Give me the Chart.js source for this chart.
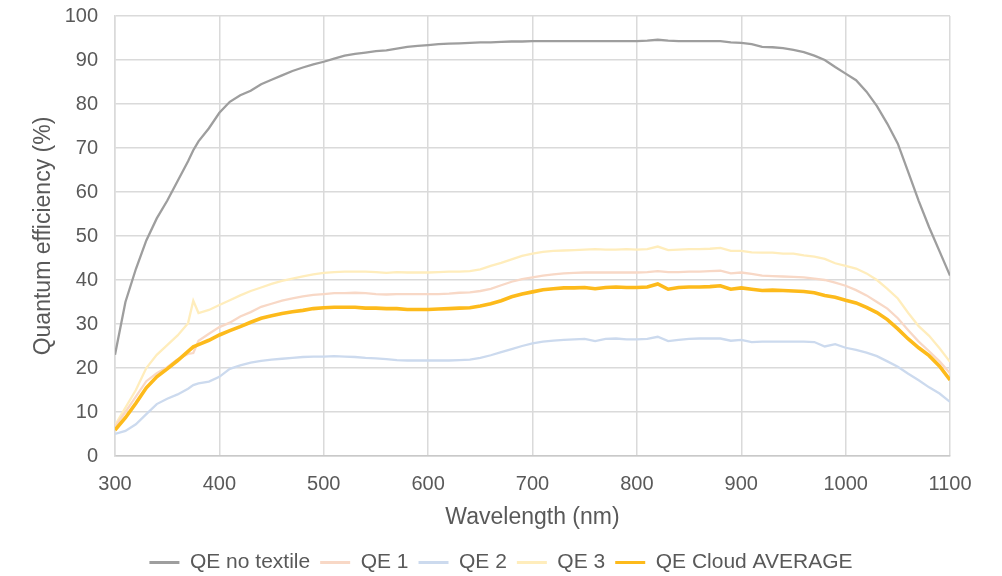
<!DOCTYPE html>
<html>
<head>
<meta charset="utf-8">
<title>Quantum efficiency</title>
<script src="https://cdn.jsdelivr.net/npm/chart.js@4.4.0/dist/chart.umd.min.js"></script>
<style>
    body { margin: 0; background: #ffffff; }
    #chart-container { width: 1002px; height: 576px; }
</style>
</head>
<body>
<div id="chart-container"><canvas id="qe" width="1002" height="576"></canvas></div>
<script>
// wavelengths (nm), one value per series at each of them
var wavelength = [300, 310, 320, 330, 340, 350, 360, 370, 375, 380, 390,
    400, 410, 420, 430, 440, 450, 460, 470, 480, 490,
    500, 510, 520, 530, 540, 550, 560, 570, 580, 590,
    600, 610, 620, 630, 640, 650, 660, 670, 680, 690,
    700, 710, 720, 730, 740, 750, 760, 770, 780, 790,
    800, 810, 820, 830, 840, 850, 860, 870, 880, 890,
    900, 910, 920, 930, 940, 950, 960, 970, 980, 990,
    1000, 1010, 1020, 1030, 1040, 1050, 1060, 1070, 1080, 1090, 1100];

var qeNoTextile = [23, 35, 42.5, 49, 54, 58, 62.5, 67, 69.5, 71.5, 74.5,
    78, 80.5, 82, 83, 84.5, 85.5, 86.5, 87.5, 88.3, 89,
    89.6, 90.3, 91, 91.4, 91.7, 92, 92.2, 92.6, 93, 93.2,
    93.4, 93.6, 93.7, 93.8, 93.9, 94, 94, 94.1, 94.2, 94.2,
    94.3, 94.3, 94.3, 94.3, 94.3, 94.3, 94.3, 94.3, 94.3, 94.3,
    94.3, 94.4, 94.6, 94.4, 94.3, 94.3, 94.3, 94.3, 94.3, 94,
    93.9, 93.6, 93, 92.9, 92.7, 92.3, 91.8, 91, 90, 88.4,
    86.9, 85.4, 82.8, 79.5, 75.5, 71, 64.5, 58, 52, 46.5, 41];

var qe1 = [6.7, 10, 13.5, 17, 18.8, 20.2, 22, 23.2, 23.4, 26.2, 27.8,
    29.3, 30.3, 31.7, 32.7, 33.9, 34.6, 35.3, 35.8, 36.3, 36.6,
    36.8, 37, 37, 37.1, 37, 36.8, 36.7, 36.8, 36.8, 36.8,
    36.8, 36.8, 36.9, 37.1, 37.2, 37.5, 38, 38.8, 39.6, 40.2,
    40.6, 41, 41.3, 41.5, 41.6, 41.7, 41.7, 41.7, 41.7, 41.7,
    41.7, 41.8, 42, 41.8, 41.8, 41.9, 41.9, 42, 42.1, 41.5,
    41.7, 41.4, 41, 40.9, 40.8, 40.7, 40.6, 40.3, 40, 39.4,
    38.7, 37.7, 36.5, 35, 33.5, 31.3, 28.6, 26, 23.8, 21.5, 18.8];

var qe2 = [5, 5.7, 7.2, 9.5, 11.8, 13, 14, 15.3, 16.1, 16.5, 16.9,
    18, 19.8, 20.6, 21.2, 21.6, 21.9, 22.1, 22.3, 22.5, 22.6,
    22.6, 22.7, 22.6, 22.5, 22.3, 22.2, 22, 21.8, 21.7, 21.7,
    21.7, 21.7, 21.7, 21.8, 21.9, 22.3, 22.9, 23.6, 24.3, 25,
    25.6, 26, 26.2, 26.4, 26.5, 26.6, 26.1, 26.6, 26.7, 26.5,
    26.5, 26.6, 27.1, 26.1, 26.4, 26.6, 26.7, 26.7, 26.7, 26.2,
    26.4, 25.9, 26, 26, 26, 26, 26, 25.9, 24.9, 25.4,
    24.6, 24.1, 23.5, 22.7, 21.5, 20.3, 18.7, 17.2, 15.6, 14.2, 12.3];

var qe3 = [7, 11, 15, 20, 23, 25.2, 27.4, 30.2, 35.3, 32.5, 33.2,
    34.3, 35.4, 36.5, 37.5, 38.3, 39.1, 39.8, 40.3, 40.8, 41.3,
    41.6, 41.8, 41.9, 41.9, 41.9, 41.8, 41.6, 41.8, 41.7, 41.7,
    41.7, 41.8, 41.9, 41.9, 42, 42.4, 43.2, 43.9, 44.7, 45.5,
    46, 46.4, 46.6, 46.7, 46.8, 46.9, 47, 46.9, 46.9, 47,
    46.9, 47, 47.6, 46.8, 46.9, 47, 47, 47.1, 47.3, 46.6,
    46.6, 46.3, 46.2, 46.2, 46, 46, 45.6, 45.3, 44.8, 43.8,
    43.2, 42.6, 41.5, 40, 38, 35.8, 32.5, 29.5, 27.3, 24.5, 21.4];

var qeCloudAverage = [5.9, 8.7, 12, 15.5, 18, 19.8, 21.7, 23.8, 24.8, 25.3, 26.3,
    27.5, 28.5, 29.4, 30.4, 31.3, 31.9, 32.4, 32.8, 33.1, 33.5,
    33.7, 33.8, 33.8, 33.8, 33.6, 33.6, 33.5, 33.5, 33.3, 33.3,
    33.3, 33.4, 33.5, 33.6, 33.7, 34.1, 34.6, 35.3, 36.2, 36.8,
    37.3, 37.8, 38, 38.2, 38.2, 38.3, 38, 38.3, 38.4, 38.3,
    38.3, 38.4, 39.1, 37.9, 38.3, 38.4, 38.4, 38.5, 38.7, 37.9,
    38.2, 37.9, 37.6, 37.7, 37.6, 37.5, 37.4, 37.1, 36.5, 36.1,
    35.4, 34.8, 33.8, 32.6, 31, 28.9, 26.6, 24.6, 22.8, 20.4, 17.3];

var seriesNames = ['QE no textile', 'QE 1', 'QE 2', 'QE 3', 'QE Cloud AVERAGE'];
var seriesValues = [qeNoTextile, qe1, qe2, qe3, qeCloudAverage];
var seriesColors = ['#9E9E9E', '#F8D8C6', '#CCDAEE', '#FFEDBC', '#FDBA1B'];
var seriesWidths = [2.3, 2.3, 2.3, 2.3, 3.6];

var textColor = '#595959';
var gridColor = '#DADADA';
var fontFamily = '"Liberation Sans", Arial, Helvetica, sans-serif';

function toPoints(values) {
    var pts = [];
    for (var i = 0; i < wavelength.length; i++) {
        pts.push({x: wavelength[i], y: values[i]});
    }
    return pts;
}

// plain numbers on the axes, no thousands separator
function plainTick(value) {
    return String(value);
}

var datasets = [];
for (var i = 0; i < seriesNames.length; i++) {
    datasets.push({
        label: seriesNames[i],
        data: toPoints(seriesValues[i]),
        borderColor: seriesColors[i],
        backgroundColor: seriesColors[i],
        borderWidth: seriesWidths[i],
        pointRadius: 0,
        tension: 0,
        // the average goes on top of the other curves
        order: (i == seriesNames.length - 1) ? 0 : 1
    });
}

new Chart(document.getElementById('qe'), {
    type: 'line',
    data: { datasets: datasets },
    options: {
        responsive: false,
        animation: false,
        // right margin comes from the x scale so the legend stays centred on the page
        layout: { padding: { top: 16, left: 0, right: 0, bottom: -7 } },
        plugins: {
            tooltip: { enabled: false },
            legend: {
                position: 'bottom',
                labels: {
                    color: textColor,
                    font: { family: fontFamily, size: 21 },
                    boxWidth: 30,
                    boxHeight: 3,
                    padding: 10,
                    sort: function(a, b) { return a.datasetIndex - b.datasetIndex; },
                    generateLabels: function(chart) {
                        var items = Chart.defaults.plugins.legend.labels.generateLabels(chart);
                        items.forEach(function(it) { it.lineWidth = 0; });
                        return items;
                    }
                }
            }
        },
        scales: {
            x: {
                type: 'linear',
                min: 300,
                max: 1100,
                afterFit: function(scale) {
                    scale.height = 86;
                    scale.paddingRight = 52;
                },
                ticks: {
                    stepSize: 100,
                    color: textColor,
                    padding: 16,
                    maxRotation: 0,
                    callback: plainTick,
                    font: { family: fontFamily, size: 20 }
                },
                grid: { color: gridColor, lineWidth: 1.5, drawTicks: false },
                border: { color: '#C9C9C9', width: 1.5 },
                title: {
                    display: true,
                    text: 'Wavelength (nm)',
                    color: textColor,
                    font: { family: fontFamily, size: 23 },
                    padding: { top: 0, bottom: 11 }
                }
            },
            y: {
                min: 0,
                max: 100,
                afterFit: function(scale) {
                    scale.width = 115;
                    scale.paddingTop = 0;
                    scale.paddingBottom = 0;
                },
                ticks: {
                    stepSize: 10,
                    color: textColor,
                    padding: 17,
                    callback: plainTick,
                    font: { family: fontFamily, size: 20 }
                },
                grid: { color: gridColor, lineWidth: 1.5, drawTicks: false },
                border: { color: gridColor, width: 1.5 },
                title: {
                    display: true,
                    text: 'Quantum efficiency (%)',
                    color: textColor,
                    font: { family: fontFamily, size: 23 },
                    padding: { top: 30, bottom: 0 }
                }
            }
        }
    }
});
</script>
</body>
</html>
